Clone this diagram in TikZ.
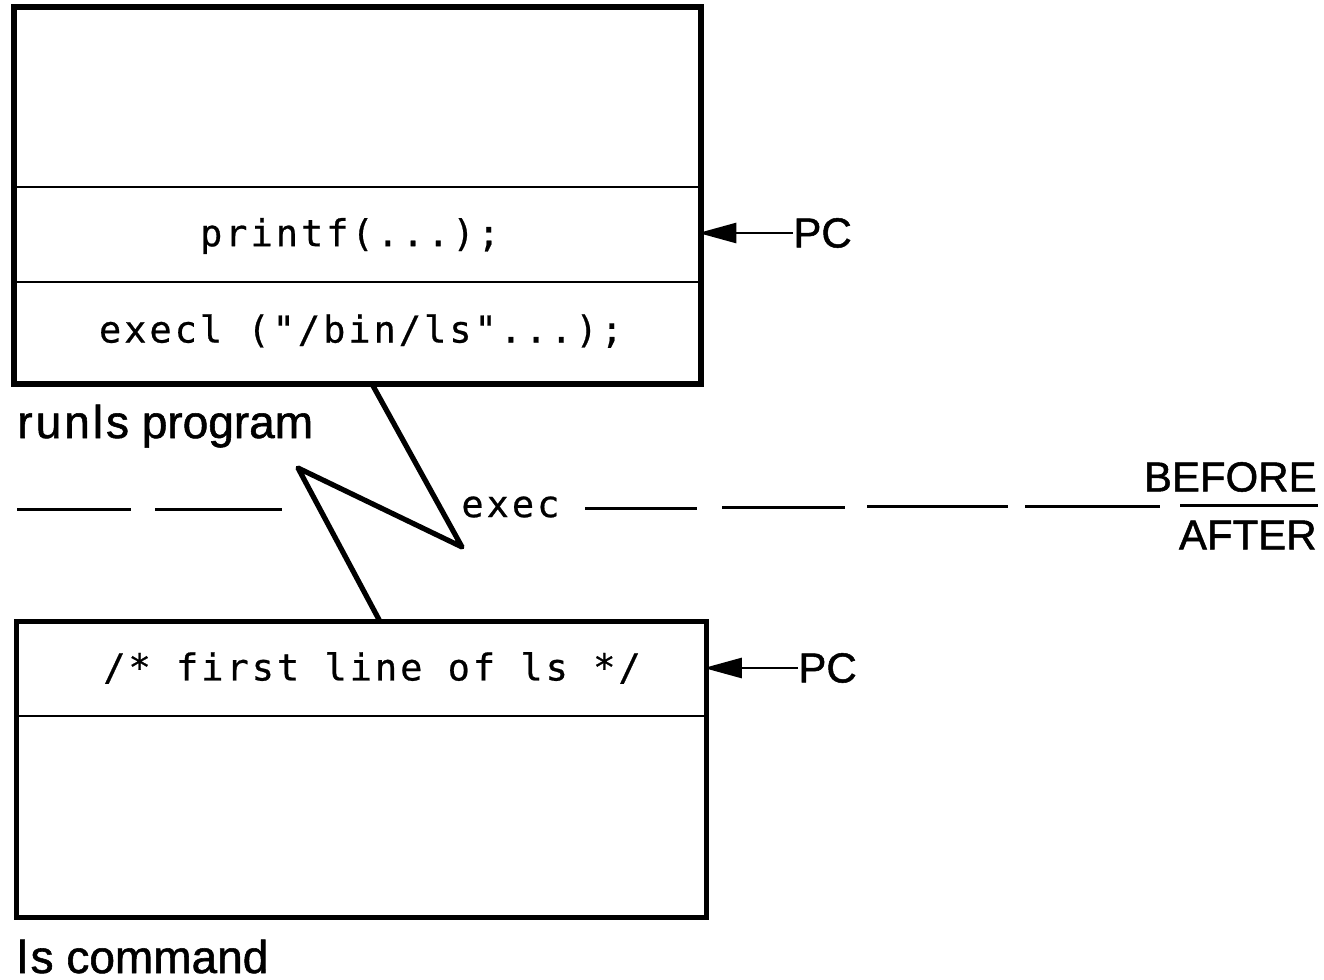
\documentclass[tikz,border=0pt]{standalone}
\usepackage{fontspec}
\setmainfont[FakeBold=1.2]{Liberation Sans}
\newfontfamily\codefont[LetterSpace=8,FakeBold=0.6]{DejaVu Sans Mono}
\usetikzlibrary{arrows.meta}

\begin{document}
\begin{tikzpicture}[x=0.5pt,y=-0.5pt,
  frame/.style={draw, line width=2.6pt, inner sep=0pt, outer sep=0pt},
  rowline/.style={line width=1.1pt},
  code/.style={font=\codefont\fontsize{18.5}{22}\selectfont, inner sep=0pt},
  label/.style={font=\fontsize{23}{27}\selectfont, inner sep=0pt},
  caps/.style={font=\fontsize{21}{25}\selectfont, inner sep=0pt},
  pointer/.style={line width=1.4pt, -{Triangle[length=19pt,width=10pt]}, shorten >=-1.3pt},
  jump/.style={line width=2.6pt, line join=round},
  divider/.style={line width=1.5pt}]

\useasboundingbox (0,0) rectangle (1324,980);

% process image before the exec
\node[frame, minimum width=343.5pt, minimum height=188.5pt] (top) at (357.5,195.5) {};
\draw[rowline] (14,187) -- (701,187);
\draw[rowline] (14,282) -- (701,282);
\node[code] (printf) at (350,236) {printf(...);};
\node[code] (execl) at (361,331) {execl ("/bin/ls"...);};
\node[label, anchor=base west] (runls) at (17,438)
  {r\kern1.5pt u\kern1.5pt n\kern1.5pt l\kern1.5pt s program};

% process image after the exec
\node[frame, minimum width=345pt, minimum height=148pt] (bot) at (361.5,769.5) {};
\draw[rowline] (16.5,716) -- (706.5,716);
\node[code] (first) at (372,668) {/* first line of ls */};
\node[label, anchor=base west] (lscmd) at (17,973) {l\kern1.5pt s command};

% program counters
\node[caps, anchor=west] (pc1) at (793,233) {PC};
\node[caps, anchor=west] (pc2) at (798,668) {PC};
\draw[pointer] (pc1.west) -- (top.east |- pc1.west);
\draw[pointer] (pc2.west) -- (bot.east |- pc2.west);

% the exec jump
\coordinate (z0) at (top.south -| 372,0);
\coordinate (z1) at (462,547);
\coordinate (z2) at (298,468);
\coordinate (z3) at (bot.north -| 380,0);
\draw[jump] (z0) -- (z1) -- (z2) -- (z3);
\node[code, anchor=west] (exec) at (461,507) {exec};

% before / after boundary
\draw[divider] (17,509) -- (131,509) (155,509) -- (282,509)
  (585,508) -- (697,508) (722,507) -- (845,507) (867,506) -- (1008,506)
  (1025,506) -- (1160,506) (1180,505) -- (1318,505);
\node[caps, anchor=east] (before) at (1317,477) {BEFORE};
\node[caps, anchor=east] (after) at (1317,535) {AFTER};
\end{tikzpicture}
\end{document}
